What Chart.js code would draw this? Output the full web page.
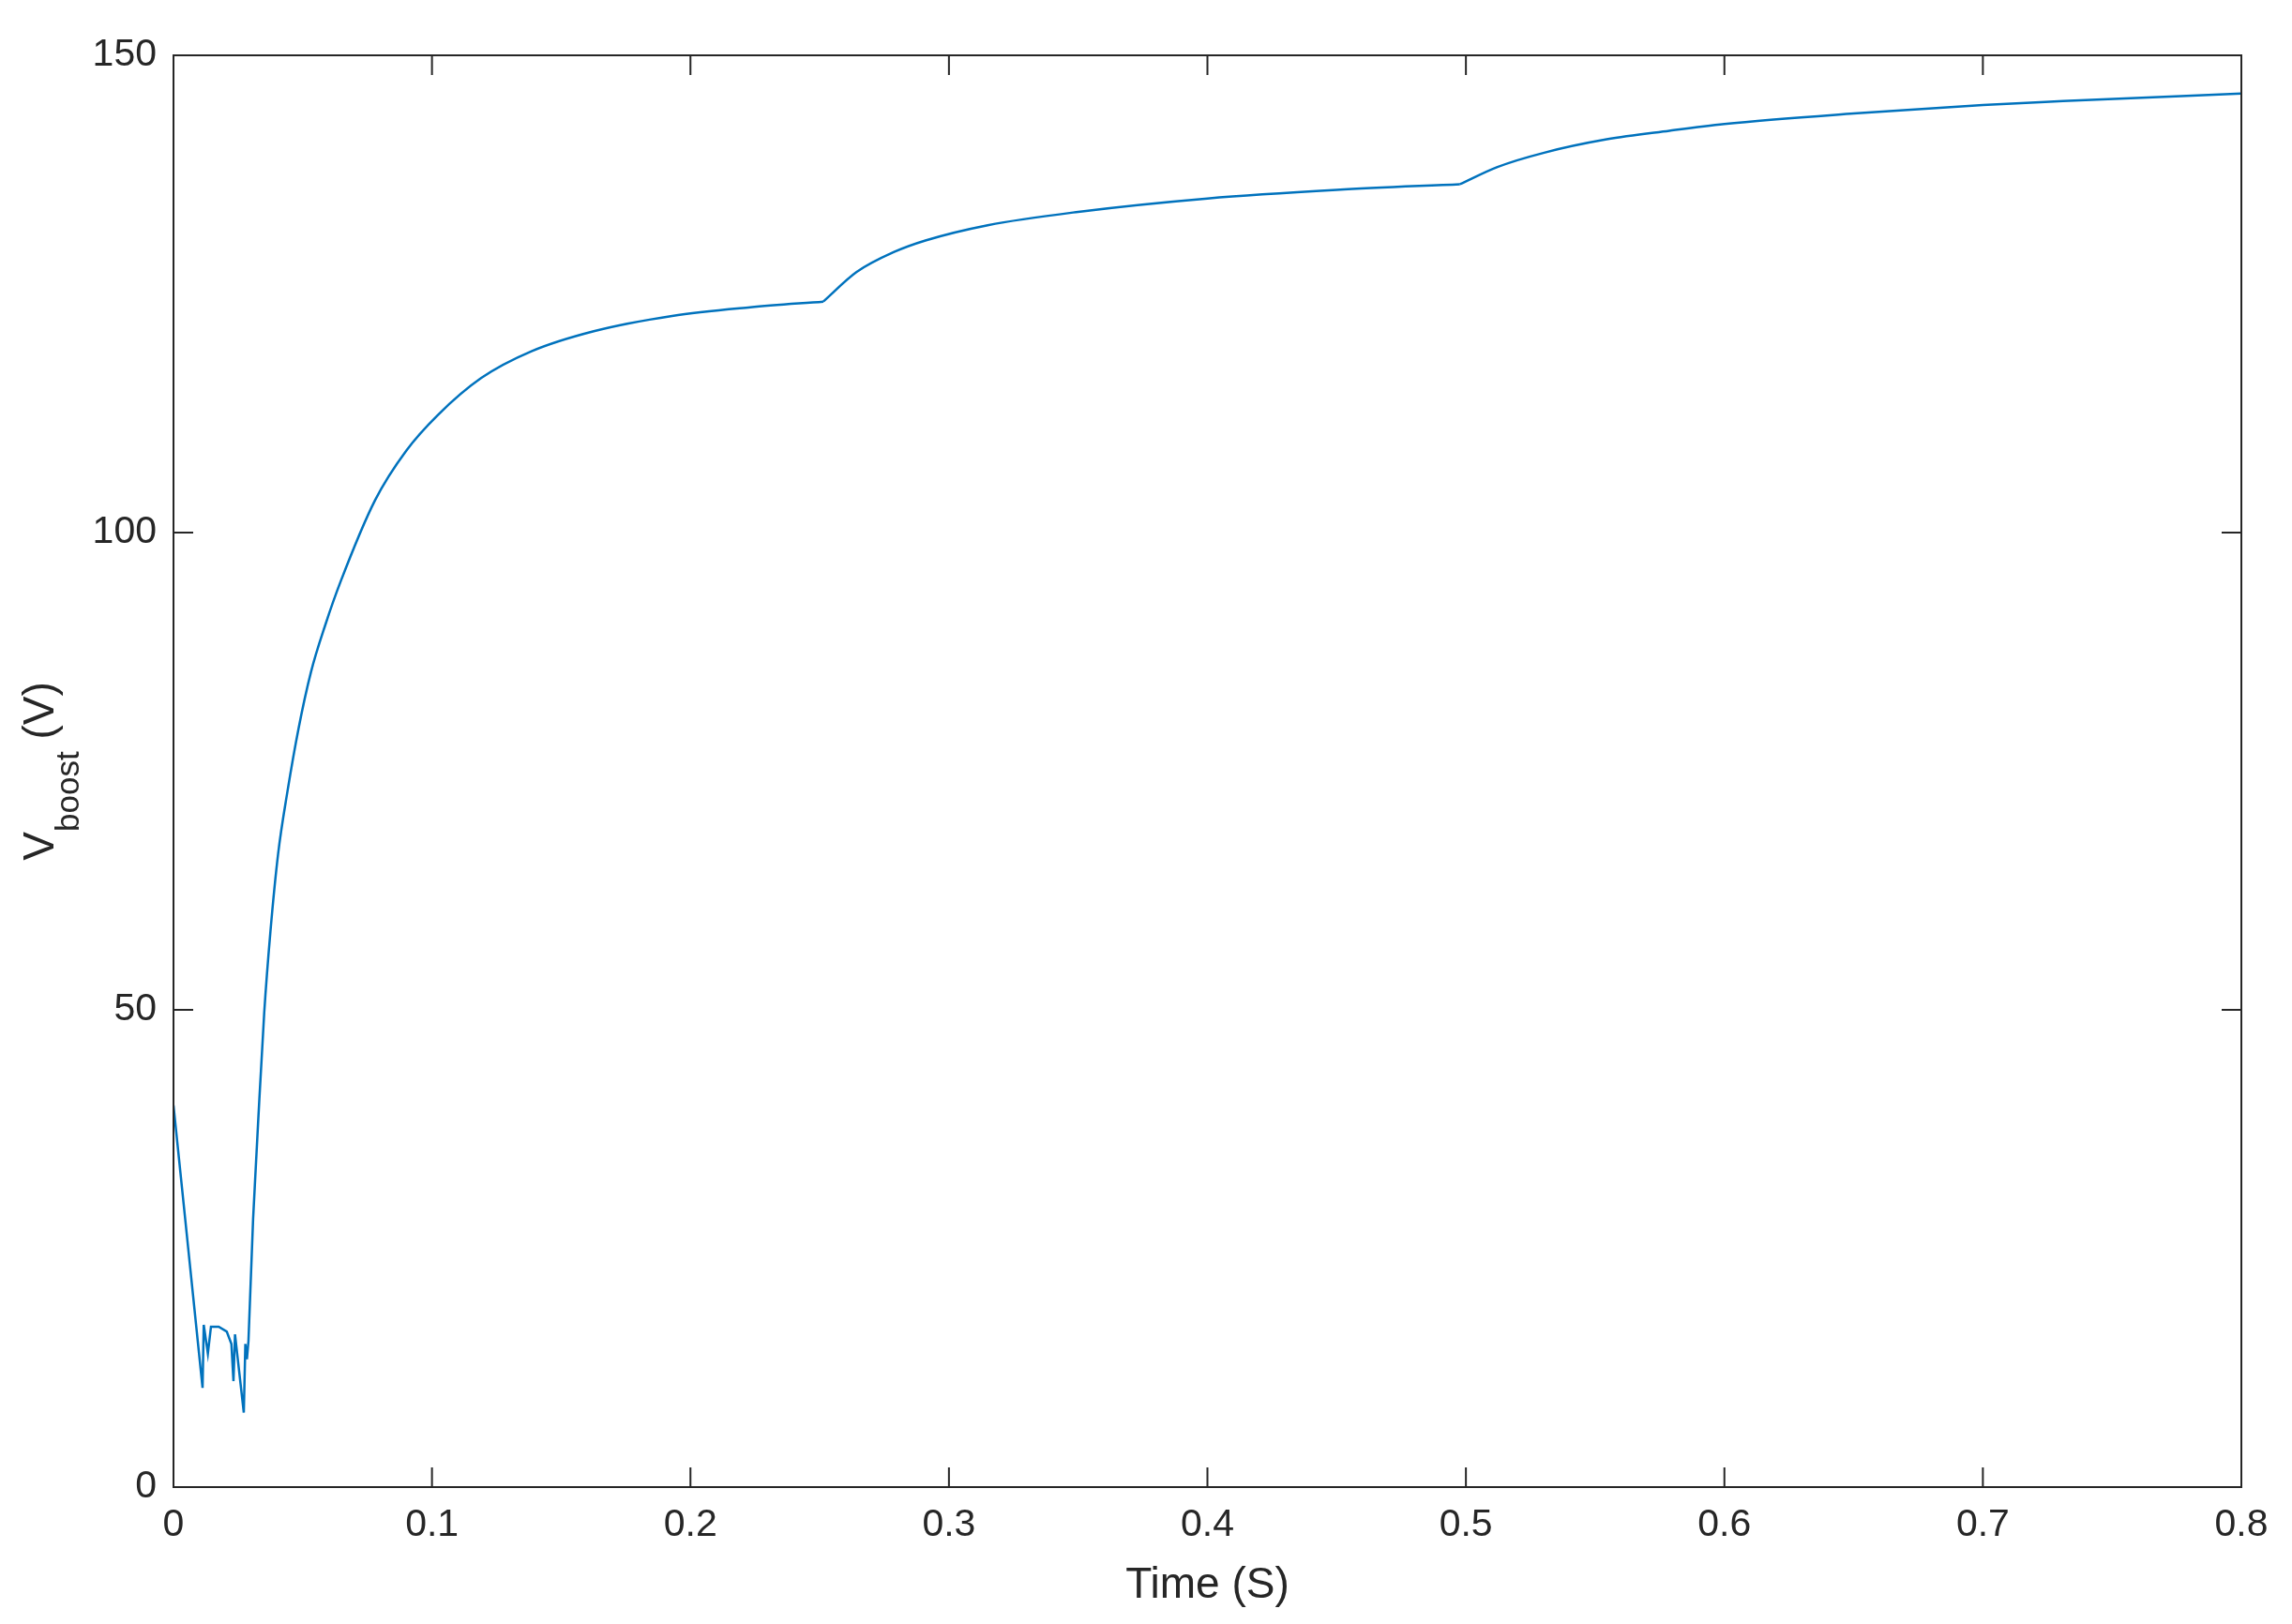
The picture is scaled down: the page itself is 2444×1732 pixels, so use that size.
<!DOCTYPE html>
<html>
<head>
<meta charset="utf-8">
<script src="https://cdn.jsdelivr.net/npm/chart.js@4.4.1/dist/chart.umd.min.js"></script>
<style>
  body { margin: 0; background: #fff; }
  #wrap { width: 2444px; height: 1732px; }
</style>
</head>
<body>
<div id="wrap"><canvas id="vboostChart"></canvas></div>
<script>
// start-up transient (straight segments)
const tStart = [0, 0.01125, 0.0117, 0.0133, 0.0145, 0.0175, 0.0206, 0.0224, 0.0232, 0.0238, 0.0272, 0.0278, 0.0284, 0.029, 0.0308];
const vStart = [40, 10.4, 17.0, 14.0, 16.8, 16.8, 16.3, 15.0, 11.1, 16.0, 7.8, 15.0, 13.4, 15.3, 28.1];
// first rise
const tRise1 = [0.0308, 0.0327, 0.0351, 0.0375, 0.0405, 0.0441, 0.0484, 0.0532, 0.0587, 0.0647, 0.078, 0.0901, 0.1022, 0.1191, 0.1385, 0.1626, 0.1929, 0.2231, 0.2514];
const vRise1 = [28.1, 38.0, 49.7, 58.2, 66.4, 72.9, 79.5, 85.4, 90.3, 94.9, 103.4, 108.6, 112.3, 116.2, 119.0, 121.1, 122.7, 123.6, 124.2];
// second step
const tRise2 = [0.2514, 0.2643, 0.2788, 0.2909, 0.315, 0.35, 0.4, 0.45, 0.4977];
const vRise2 = [124.2, 127.3, 129.4, 130.6, 132.2, 133.6, 135.0, 135.9, 136.5];
// third step
const tRise3 = [0.4977, 0.5122, 0.5303, 0.5545, 0.5787, 0.6, 0.65, 0.7, 0.731, 0.8];
const vRise3 = [136.5, 138.3, 139.8, 141.2, 142.1, 142.8, 143.9, 144.8, 145.2, 146.0];

const xTicks = [0, 0.1, 0.2, 0.3, 0.4, 0.5, 0.6, 0.7, 0.8];
const yTicks = [0, 50, 100, 150];

const lineColor = '#0072BD';
const axisColor = '#262626';
const fontFamily = '"Liberation Sans", Arial, Helvetica, sans-serif';

function toPoints(ts, vs) {
    return ts.map((t, i) => ({ x: t, y: vs[i] }));
}

function segment(ts, vs, smooth) {
    return {
        data: toPoints(ts, vs),
        borderColor: lineColor,
        borderWidth: 2.5,
        pointRadius: 0,
        tension: 0,
        cubicInterpolationMode: smooth ? 'monotone' : 'default'
    };
}

// MATLAB style box with inward ticks
const boxPlugin = {
    id: 'matlabBox',
    afterDatasetsDraw(chart) {
        const { ctx, chartArea: a, scales: { x, y } } = chart;
        ctx.save();
        ctx.strokeStyle = axisColor;
        ctx.lineWidth = 2;
        ctx.strokeRect(a.left, a.top, a.right - a.left, a.bottom - a.top);
        ctx.beginPath();
        x.ticks.forEach(t => {
            const px = x.getPixelForValue(t.value);
            ctx.moveTo(px, a.bottom); ctx.lineTo(px, a.bottom - 21);
            ctx.moveTo(px, a.top); ctx.lineTo(px, a.top + 21);
        });
        y.ticks.forEach(t => {
            const py = y.getPixelForValue(t.value);
            ctx.moveTo(a.left, py); ctx.lineTo(a.left + 21, py);
            ctx.moveTo(a.right, py); ctx.lineTo(a.right - 21, py);
        });
        ctx.stroke();
        ctx.restore();
    }
};

// y title with subscript
const yTitlePlugin = {
    id: 'yTitle',
    afterDraw(chart) {
        const ctx = chart.ctx;
        const cy = (chart.chartArea.top + chart.chartArea.bottom) / 2;
        const main = '46px ' + fontFamily;
        const sub = '35px ' + fontFamily;
        ctx.save();
        ctx.font = main;
        const w1 = ctx.measureText('V').width;
        const w3 = ctx.measureText(' (V)').width;
        ctx.font = sub;
        const w2 = ctx.measureText('boost').width;
        const total = w1 + w2 + w3;
        ctx.translate(57, cy);
        ctx.rotate(-Math.PI / 2);
        ctx.fillStyle = axisColor;
        ctx.textBaseline = 'alphabetic';
        let x = -total / 2;
        ctx.font = main; ctx.fillText('V', x, 0); x += w1;
        ctx.font = sub; ctx.fillText('boost', x, 27); x += w2;
        ctx.font = main; ctx.fillText(' (V)', x, 0);
        ctx.restore();
    }
};

const ctx = document.getElementById('vboostChart').getContext('2d');
const vboostChart = new Chart(ctx, {
    type: 'line',
    data: {
        datasets: [
            segment(tStart, vStart, false),
            segment(tRise1, vRise1, true),
            segment(tRise2, vRise2, true),
            segment(tRise3, vRise3, true)
        ]
    },
    options: {
        responsive: true,
        maintainAspectRatio: false,
        animation: false,
        layout: { padding: { left: 0, right: 54, top: 59, bottom: 0 } },
        plugins: {
            legend: { display: false },
            tooltip: { enabled: false }
        },
        scales: {
            x: {
                type: 'linear',
                min: 0,
                max: 0.8,
                afterBuildTicks: s => { s.ticks = xTicks.map(v => ({ value: v })); },
                afterFit: s => { s.height = 146; },
                grid: { display: false, drawTicks: false },
                border: { display: false },
                ticks: {
                    autoSkip: false,
                    maxRotation: 0,
                    padding: 16,
                    color: axisColor,
                    font: { family: fontFamily, size: 41 },
                    callback: v => (v === 0 ? '0' : v.toFixed(1))
                },
                title: {
                    display: true,
                    text: 'Time (S)',
                    color: axisColor,
                    font: { family: fontFamily, size: 46 },
                    padding: { top: 0, bottom: 13 }
                }
            },
            y: {
                min: 0,
                max: 150,
                afterBuildTicks: s => { s.ticks = yTicks.map(v => ({ value: v })); },
                afterFit: s => { s.width = 185; },
                grid: { display: false, drawTicks: false },
                border: { display: false },
                ticks: {
                    padding: 18,
                    color: axisColor,
                    font: { family: fontFamily, size: 41 }
                }
            }
        }
    },
    plugins: [boxPlugin, yTitlePlugin]
});
</script>
</body>
</html>
